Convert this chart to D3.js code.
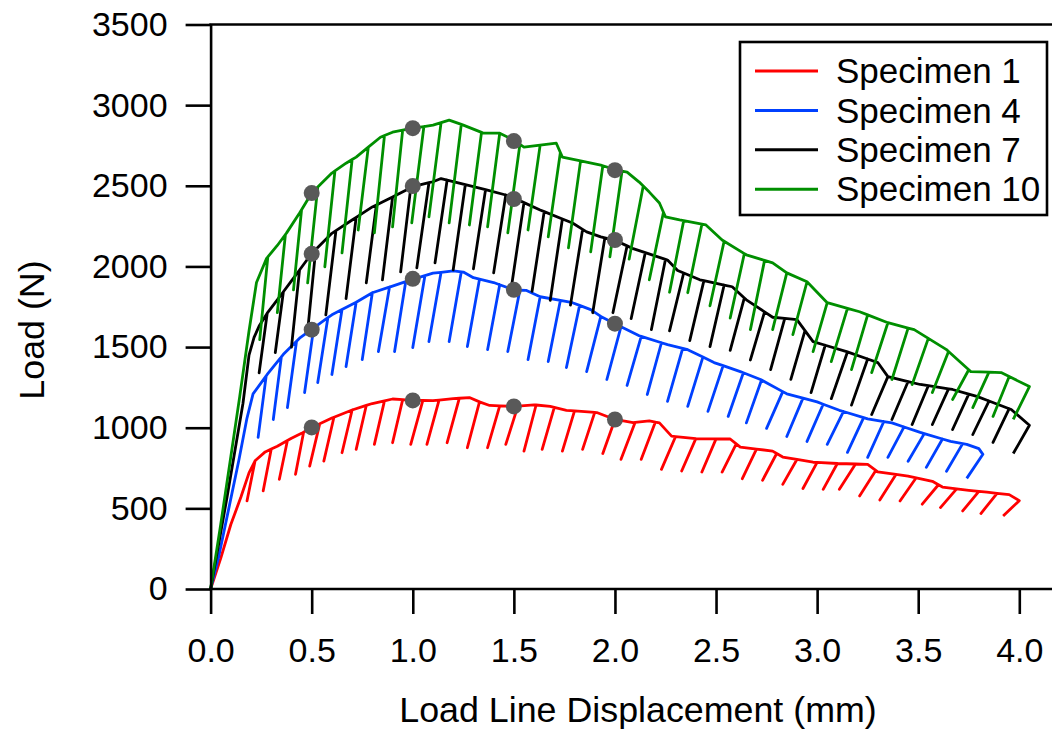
<!DOCTYPE html>
<html>
<head>
<meta charset="utf-8">
<script src="https://cdn.jsdelivr.net/npm/d3@7/dist/d3.min.js"></script>
<style>
  html, body { margin: 0; padding: 0; background: #fff; }
  svg { display: block; }
  text { font-family: "Liberation Sans", Arial, sans-serif; fill: #000; }
</style>
</head>
<body>
<svg id="chart" width="1052" height="729"></svg>
<script>
// Axis ticks
const xTicks = [0, 0.5, 1.0, 1.5, 2.0, 2.5, 3.0, 3.5, 4.0];
const yTicks = [0, 500, 1000, 1500, 2000, 2500, 3000, 3500];

const seriesNames = ["Specimen 1", "Specimen 4", "Specimen 7", "Specimen 10"];
const seriesColors = ["#ff0000", "#0040ff", "#000000", "#008f00"];

// Loading envelopes: [displacement (mm), load (N)]
const spec1Env = [[0,0],[0.05,190],[0.10,400],[0.15,570],[0.19,720],[0.22,795],[0.27,850],[0.33,885],[0.40,935],[0.45,965],[0.50,1002],[0.60,1060],[0.70,1110],[0.80,1150],[0.90,1178],[1.00,1170],[1.10,1168],[1.20,1180],[1.28,1187],[1.33,1160],[1.38,1138],[1.50,1132],[1.60,1142],[1.68,1132],[1.76,1108],[1.91,1094],[2.00,1051],[2.09,1032],[2.17,1042],[2.22,1030],[2.28,948],[2.40,932],[2.57,930],[2.62,880],[2.78,855],[2.83,818],[2.98,786],[3.10,778],[3.25,773],[3.30,726],[3.45,700],[3.57,668],[3.62,632],[3.75,612],[3.84,600],[3.95,585],[4.00,548]];
const spec4Env = [[0,0],[0.04,200],[0.09,500],[0.14,800],[0.18,1060],[0.21,1210],[0.28,1330],[0.36,1455],[0.44,1555],[0.50,1610],[0.60,1700],[0.72,1778],[0.80,1837],[0.88,1870],[1.00,1920],[1.10,1958],[1.20,1972],[1.25,1965],[1.30,1930],[1.40,1900],[1.50,1855],[1.56,1852],[1.63,1812],[1.79,1775],[1.88,1732],[1.93,1690],[2.00,1645],[2.06,1608],[2.12,1570],[2.26,1515],[2.36,1484],[2.44,1435],[2.49,1404],[2.62,1348],[2.72,1299],[2.85,1210],[3.00,1160],[3.11,1108],[3.25,1055],[3.37,1030],[3.51,971],[3.66,915],[3.74,897],[3.80,870],[3.82,835]];
const spec7Env = [[0,0],[0.08,560],[0.16,1150],[0.19,1450],[0.215,1560],[0.24,1630],[0.28,1710],[0.33,1793],[0.40,1910],[0.50,2080],[0.60,2205],[0.70,2288],[0.80,2369],[0.90,2430],[1.00,2495],[1.10,2525],[1.14,2545],[1.23,2517],[1.33,2486],[1.46,2443],[1.50,2424],[1.63,2350],[1.79,2269],[1.86,2214],[1.93,2183],[2.00,2162],[2.09,2110],[2.26,2040],[2.31,1975],[2.42,1917],[2.58,1874],[2.65,1793],[2.78,1685],[2.90,1670],[2.98,1534],[3.16,1466],[3.30,1404],[3.35,1317],[3.51,1268],[3.67,1237],[3.79,1194],[3.96,1113],[4.05,1015]];
const spec10Env = [[0,0],[0.05,400],[0.10,820],[0.144,1193],[0.19,1600],[0.227,1900],[0.277,2050],[0.33,2130],[0.376,2208],[0.44,2331],[0.50,2455],[0.60,2579],[0.67,2640],[0.72,2678],[0.84,2801],[0.90,2832],[1.00,2857],[1.10,2876],[1.18,2907],[1.25,2876],[1.35,2826],[1.43,2826],[1.50,2783],[1.55,2740],[1.71,2764],[1.74,2678],[1.93,2628],[2.00,2600],[2.06,2585],[2.12,2523],[2.17,2461],[2.22,2393],[2.25,2307],[2.32,2288],[2.45,2257],[2.53,2164],[2.65,2072],[2.78,2022],[2.85,1960],[2.95,1905],[3.05,1775],[3.21,1719],[3.35,1651],[3.48,1608],[3.64,1484],[3.76,1348],[3.91,1342],[4.05,1255]];

// Unloading cycles: [start displacement (mm), end displacement (mm), end load (N)]
const spec1Unload = [[0.22,0.18,546],[0.30,0.26,608],[0.38,0.34,680],[0.46,0.42,711],[0.54,0.49,762],[0.61,0.56,793],[0.70,0.65,845],[0.77,0.72,866],[0.86,0.81,897],[0.95,0.90,907],[1.05,0.99,897],[1.13,1.07,897],[1.23,1.17,907],[1.33,1.27,876],[1.43,1.37,876],[1.52,1.46,897],[1.61,1.55,855],[1.70,1.64,866],[1.80,1.74,855],[1.90,1.84,866],[2.00,1.94,840],[2.10,2.03,804],[2.20,2.13,804],[2.30,2.23,742],[2.40,2.33,732],[2.50,2.43,725],[2.60,2.53,725],[2.70,2.63,684],[2.80,2.73,674],[2.90,2.83,649],[3.00,2.93,623],[3.10,3.03,618],[3.19,3.11,618],[3.29,3.21,577],[3.39,3.31,552],[3.49,3.41,546],[3.60,3.52,526],[3.69,3.61,505],[3.80,3.72,484],[3.89,3.81,468],[4.00,3.92,453]];
const spec4Unload = [[0.275,0.235,940],[0.35,0.31,1051],[0.425,0.38,1125],[0.51,0.465,1218],[0.58,0.53,1280],[0.65,0.60,1330],[0.72,0.67,1379],[0.80,0.75,1422],[0.885,0.83,1472],[0.965,0.91,1472],[1.06,1.00,1497],[1.14,1.08,1534],[1.24,1.18,1534],[1.33,1.27,1503],[1.43,1.37,1484],[1.53,1.47,1472],[1.63,1.57,1422],[1.73,1.67,1410],[1.825,1.76,1373],[1.93,1.86,1348],[2.03,1.96,1299],[2.13,2.06,1262],[2.23,2.16,1206],[2.335,2.26,1163],[2.435,2.36,1132],[2.535,2.46,1101],[2.635,2.56,1070],[2.725,2.65,1030],[2.83,2.75,996],[2.93,2.85,946],[3.03,2.95,915],[3.13,3.05,897],[3.23,3.15,847],[3.33,3.25,816],[3.43,3.35,816],[3.53,3.45,792],[3.62,3.54,754],[3.72,3.64,730],[3.82,3.74,686]];
const spec7Unload = [[0.28,0.24,1340],[0.36,0.32,1466],[0.44,0.40,1500],[0.52,0.48,1600],[0.62,0.57,1700],[0.72,0.67,1800],[0.82,0.77,1898],[0.90,0.85,1917],[0.99,0.94,1966],[1.08,1.02,1991],[1.17,1.11,2022],[1.26,1.20,1979],[1.36,1.30,1985],[1.46,1.40,1960],[1.55,1.49,1890],[1.65,1.59,1846],[1.74,1.68,1790],[1.84,1.78,1760],[1.95,1.89,1713],[2.06,1.99,1713],[2.15,2.08,1676],[2.25,2.18,1608],[2.34,2.27,1600],[2.44,2.37,1540],[2.54,2.47,1503],[2.64,2.57,1480],[2.74,2.67,1420],[2.84,2.77,1360],[2.94,2.87,1300],[3.04,2.97,1218],[3.15,3.07,1180],[3.25,3.17,1140],[3.35,3.27,1082],[3.45,3.37,1051],[3.55,3.47,1020],[3.65,3.57,1020],[3.75,3.67,989],[3.85,3.77,958],[3.95,3.87,909],[4.05,3.97,840]];
const spec10Unload = [[0.283,0.243,1546],[0.37,0.33,1713],[0.45,0.41,1855],[0.53,0.48,1898],[0.615,0.565,1998],[0.70,0.65,2084],[0.78,0.73,2226],[0.86,0.81,2208],[0.95,0.90,2245],[1.055,0.995,2270],[1.14,1.08,2307],[1.24,1.18,2270],[1.34,1.28,2257],[1.43,1.37,2245],[1.53,1.47,2208],[1.63,1.57,2226],[1.73,1.67,2183],[1.83,1.77,2115],[1.94,1.88,2090],[2.035,1.975,2060],[2.14,2.07,2045],[2.24,2.17,1917],[2.34,2.27,1840],[2.43,2.36,1837],[2.54,2.47,1756],[2.64,2.57,1680],[2.74,2.67,1608],[2.85,2.78,1608],[2.95,2.88,1577],[3.05,2.98,1472],[3.15,3.07,1410],[3.25,3.17,1360],[3.35,3.27,1342],[3.45,3.37,1299],[3.55,3.47,1268],[3.65,3.57,1218],[3.75,3.67,1175],[3.85,3.77,1125],[3.95,3.87,1070],[4.05,3.97,1051]];

// Marked points at fixed displacements
const markX = [0.5, 1.0, 1.5, 2.0];
const spec1Marks = [1002, 1169, 1132, 1051];
const spec4Marks = [1608, 1923, 1855, 1645];
const spec7Marks = [2078, 2498, 2418, 2164];
const spec10Marks = [2455, 2857, 2777, 2597];

const envelopes = [spec1Env, spec4Env, spec7Env, spec10Env];
const unloads = [spec1Unload, spec4Unload, spec7Unload, spec10Unload];
const marks = [spec1Marks, spec4Marks, spec7Marks, spec10Marks];

const W = 1052, H = 729;
const svg = d3.select("#chart");

const x = d3.scaleLinear().domain([0, 4]).range([210.6, 1019.3]);
const y = d3.scaleLinear().domain([0, 3500]).range([589, 24.5]);
const x0 = x.range()[0];

// Load at a displacement along the envelope (linear between readings)
function envLoad(env, xv) {
  for (let i = 0; i < env.length - 1; i++) {
    const a = env[i], b = env[i + 1];
    if (xv >= a[0] && xv <= b[0]) {
      const t = (xv - a[0]) / (b[0] - a[0]);
      return a[1] + t * (b[1] - a[1]);
    }
  }
  return env[env.length - 1][1];
}

// Full trace: envelope with each unload/reload excursion
function trace(env, cycles) {
  const pts = [];
  let ci = 0;
  const last = env[env.length - 1];
  for (let i = 0; i < env.length; i++) {
    pts.push(env[i]);
    const nextX = i < env.length - 1 ? env[i + 1][0] : Infinity;
    while (ci < cycles.length && cycles[ci][0] > env[i][0] - 1e-9 && cycles[ci][0] < nextX - 1e-9) {
      const c = cycles[ci];
      if (c[0] >= last[0] - 1e-9) break;
      const top = [c[0], envLoad(env, c[0])];
      pts.push(top, [c[1], c[2]], top);
      ci++;
    }
  }
  // final unload ends the record
  while (ci < cycles.length) {
    const c = cycles[ci];
    pts.push([c[0], envLoad(env, c[0])], [c[1], c[2]]);
    ci++;
  }
  return pts;
}

const line = d3.line().x(d => x(d[0])).y(d => y(d[1]));

const plot = svg.append("g");
envelopes.forEach((env, i) => {
  plot.append("path")
    .attr("d", line(trace(env, unloads[i])))
    .attr("fill", "none")
    .attr("stroke", seriesColors[i])
    .attr("stroke-width", 2.8)
    .attr("stroke-linejoin", "round")
    .attr("stroke-linecap", "butt");
});

// Marker dots
marks.forEach(vals => {
  plot.selectAll(null).data(vals).enter().append("circle")
    .attr("cx", (d, j) => x(markX[j]))
    .attr("cy", d => y(d))
    .attr("r", 8)
    .attr("fill", "#595959");
});

// Axes
const axisW = 2.6;
const yAxis = svg.append("g").attr("transform", `translate(${x0},0)`)
  .call(d3.axisLeft(y).tickValues(yTicks).tickSize(25).tickSizeOuter(0).tickPadding(18).tickFormat(d3.format("d")));
yAxis.select(".domain").attr("stroke-width", axisW);
yAxis.selectAll(".tick line").attr("stroke-width", axisW);
yAxis.selectAll(".tick text").style("font-size", "34px").style("font-family", "'Liberation Sans', Arial, sans-serif");

const xAxis = svg.append("g").attr("transform", `translate(0,${y(0)})`)
  .call(d3.axisBottom(x).tickValues(xTicks).tickSize(25).tickSizeOuter(0).tickPadding(24).tickFormat(d3.format(".1f")));
xAxis.select(".domain").remove();
xAxis.selectAll(".tick line").attr("stroke-width", axisW);
xAxis.selectAll(".tick text").style("font-size", "34px").style("font-family", "'Liberation Sans', Arial, sans-serif");

// Frame lines along bottom and top
svg.append("line").attr("x1", x0 - 1.3).attr("x2", W).attr("y1", y(0)).attr("y2", y(0))
  .attr("stroke", "#000").attr("stroke-width", axisW);
svg.append("line").attr("x1", x0 - 1.3).attr("x2", W).attr("y1", y(3500)).attr("y2", y(3500))
  .attr("stroke", "#000").attr("stroke-width", axisW);

// Axis titles
svg.append("text").attr("x", 638).attr("y", 722).attr("text-anchor", "middle")
  .style("font-size", "35.8px").text("Load Line Displacement (mm)");
svg.append("text").attr("transform", "translate(44,330) rotate(-90)").attr("text-anchor", "middle")
  .style("font-size", "35.8px").text("Load (N)");

// Legend
const lg = svg.append("g");
lg.append("rect").attr("x", 740).attr("y", 42).attr("width", 307).attr("height", 173)
  .attr("fill", "#fff").attr("stroke", "#000").attr("stroke-width", 2.6);
seriesNames.forEach((name, i) => {
  const ly = 71 + i * 39.4;
  lg.append("line").attr("x1", 755).attr("x2", 818).attr("y1", ly).attr("y2", ly)
    .attr("stroke", seriesColors[i]).attr("stroke-width", 3);
  lg.append("text").attr("x", 836).attr("y", ly).attr("dy", "0.35em")
    .style("font-size", "35px").text(name);
});
</script>
</body>
</html>
